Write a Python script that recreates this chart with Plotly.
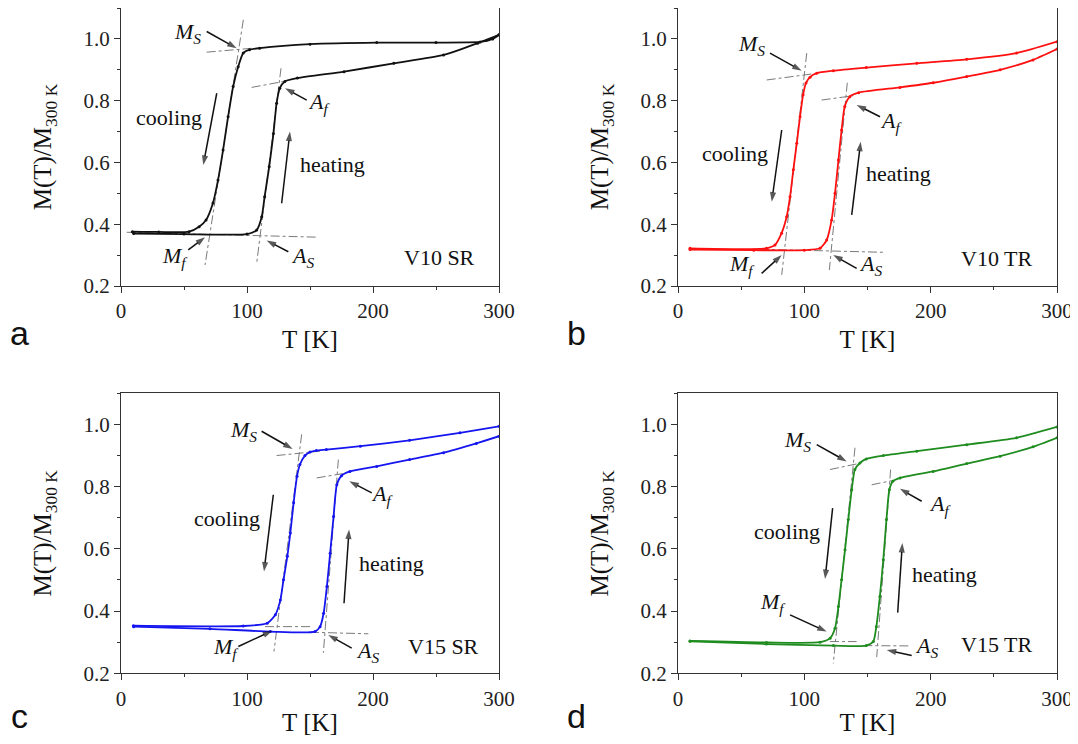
import plotly.graph_objects as go

# ---------------- data ----------------
# Panel a: V10 SR (black)
a_cool_T = [9, 30, 54, 62, 67.5, 73, 77, 81, 85, 89, 93, 97, 102, 110, 150, 203, 250, 285, 295, 300]
a_cool_M = [0.376, 0.375, 0.376, 0.392, 0.414, 0.469, 0.543, 0.640, 0.748, 0.846, 0.910, 0.954,
            0.965, 0.970, 0.983, 0.988, 0.988, 0.990, 1.000, 1.013]
a_heat_T = [10, 50, 100, 107.7, 111.7, 114, 117.6, 121, 123.5, 126, 130, 140, 177, 216.5, 256, 283, 300]
a_heat_M = [0.370, 0.368, 0.368, 0.381, 0.424, 0.489, 0.586, 0.694, 0.792, 0.840, 0.862, 0.873,
            0.894, 0.921, 0.948, 0.986, 1.013]

# Panel b: V10 TR (red)
b_cool_T = [9.5, 70, 76.8, 82, 86, 88.7, 91.3, 94, 96.6, 99, 101.3, 104.5, 109.8, 123, 149, 189, 228.5, 268, 300]
b_cool_M = [0.322, 0.322, 0.333, 0.371, 0.424, 0.489, 0.576, 0.662, 0.748, 0.819, 0.857, 0.876,
            0.889, 0.897, 0.907, 0.921, 0.934, 0.954, 0.991]
b_heat_T = [9.5, 60, 100, 112.4, 117.7, 121.6, 124.3, 127, 129.5, 132, 136, 143, 175.7, 202, 228.5, 255, 281, 300]
b_heat_M = [0.318, 0.316, 0.316, 0.322, 0.349, 0.414, 0.500, 0.608, 0.705, 0.781, 0.813, 0.826,
            0.843, 0.858, 0.878, 0.900, 0.932, 0.967]

# Panel c: V15 SR (blue)
c_cool_T = [9.8, 97, 116, 122.5, 126.5, 129, 132, 134.4, 137, 139.7, 142, 146, 150, 155, 163, 190, 229, 269, 300]
c_cool_M = [0.353, 0.352, 0.361, 0.388, 0.436, 0.501, 0.576, 0.651, 0.748, 0.833, 0.871, 0.900,
            0.911, 0.916, 0.919, 0.930, 0.949, 0.973, 0.994]
c_heat_T = [10, 70.6, 118.5, 154, 158, 160.8, 163.4, 166, 168.7, 171.3, 175, 181.7, 202.9, 229, 256, 282, 300]
c_heat_M = [0.350, 0.343, 0.334, 0.334, 0.350, 0.393, 0.479, 0.586, 0.704, 0.806, 0.835, 0.849,
            0.865, 0.887, 0.909, 0.939, 0.962]

# Panel d: V15 TR (green)
d_cool_T = [9.5, 70, 112.4, 120.4, 124.3, 127, 129.5, 132.2, 134.8, 137.5, 140, 144, 149, 162.5, 189, 228.5, 268, 300]
d_cool_M = [0.304, 0.299, 0.300, 0.313, 0.345, 0.415, 0.501, 0.597, 0.694, 0.790, 0.855, 0.876,
            0.889, 0.900, 0.914, 0.935, 0.957, 0.992]
d_heat_T = [9.5, 70, 123, 149, 154.6, 157, 159.8, 162.5, 165, 167.3, 170, 175.7, 202, 228.5, 255, 281, 300]
d_heat_M = [0.303, 0.294, 0.289, 0.289, 0.302, 0.350, 0.447, 0.565, 0.694, 0.790, 0.817, 0.828,
            0.849, 0.874, 0.898, 0.928, 0.957]

# Tangent construction lines: segments (T0, T1, M0, M1)
a_tangents = [(68, 105, 0.957, 0.970), (97.1, 66.7, 1.062, 0.268), (103.7, 128.8, 0.843, 0.862),
              (127, 107.7, 0.905, 0.274), (4.5, 156.6, 0.374, 0.358)]
b_tangents = [(70.2, 107, 0.867, 0.887), (101.9, 82.1, 0.954, 0.236), (113.7, 138.8, 0.802, 0.816),
              (134, 119.8, 0.858, 0.252), (64.9, 163.9, 0.319, 0.309)]
c_tangents = [(123.5, 158, 0.900, 0.914), (143.4, 121.4, 0.968, 0.270), (155.3, 176.4, 0.828, 0.842),
              (172.5, 160.6, 0.887, 0.266), (114.3, 150, 0.350, 0.350), (150, 196.3, 0.332, 0.327)]
d_tangents = [(120.3, 141.4, 0.855, 0.873), (140.1, 122.9, 0.925, 0.232), (153.3, 169.1, 0.806, 0.819),
              (168.3, 157.3, 0.855, 0.252), (120.3, 141.4, 0.302, 0.302), (146.7, 183.6, 0.289, 0.288)]

sample_labels = ["V10 SR", "V10 TR", "V15 SR", "V15 TR"]
panel_letters = ["a", "b", "c", "d"]
colors = ["#111111", "#ff1010", "#1515f0", "#1e8c1e"]

x_ticks = [0, 100, 200, 300]
y_ticks = [0.2, 0.4, 0.6, 0.8, 1.0]

panels = [
    (a_cool_T, a_cool_M, a_heat_T, a_heat_M, a_tangents),
    (b_cool_T, b_cool_M, b_heat_T, b_heat_M, b_tangents),
    (c_cool_T, c_cool_M, c_heat_T, c_heat_M, c_tangents),
    (d_cool_T, d_cool_M, d_heat_T, d_heat_M, d_tangents),
]

# Annotation layout per panel (positions in data units of that panel)
MS = "<i>M</i><sub><i>S</i></sub>"
MF = "<i>M</i><sub><i>f</i></sub>"
AF = "<i>A</i><sub><i>f</i></sub>"
AS = "<i>A</i><sub><i>S</i></sub>"
panel_text = [
    [(MS, 52.4, 1.019), (AF, 157, 0.793), ("cooling", 38, 0.747), ("heating", 167.9, 0.592),
     (MF, 42.9, 0.294), (AS, 144.4, 0.294)],
    [(MS, 58.3, 0.981), (AF, 168.4, 0.732), ("cooling", 45.5, 0.630), ("heating", 174.4, 0.565),
     (MF, 51, 0.268), (AS, 152, 0.268)],
    [(MS, 97, 0.978), (AF, 207, 0.774), ("cooling", 83.9, 0.699), ("heating", 214.8, 0.554),
     (MF, 83.3, 0.281), (AS, 195.6, 0.270)],
    [(MS, 94.6, 0.946), (AF, 207.5, 0.742), ("cooling", 86, 0.656), ("heating", 210.6, 0.517),
     (MF, 75.5, 0.425), (AS, 196.8, 0.286)],
]
# arrows: (tail_x, tail_y, head_x, head_y)
panel_arrows = [
    [(68, 1.024, 91.8, 0.970), (147.4, 0.802, 130.2, 0.840), (76, 0.824, 65.3, 0.592),
     (127.5, 0.468, 134.1, 0.700), (53.4, 0.317, 66.7, 0.358), (132.8, 0.311, 115.6, 0.347)],
    [(72.8, 0.954, 97.9, 0.897), (159.9, 0.748, 141.4, 0.786), (82.1, 0.705, 74.2, 0.473),
     (137.5, 0.430, 144.6, 0.667), (66.2, 0.241, 82.1, 0.300), (141.4, 0.257, 122.9, 0.300)],
    [(111.6, 0.978, 136.2, 0.921), (199, 0.780, 181.2, 0.817), (120.9, 0.774, 113.5, 0.527),
     (177, 0.425, 181, 0.662), (93.1, 0.286, 120.1, 0.337), (183.1, 0.281, 164.5, 0.323)],
    [(109.8, 0.935, 133.5, 0.881), (192.9, 0.753, 175.7, 0.793), (122.4, 0.731, 116.4, 0.503),
     (173.9, 0.395, 177.6, 0.619), (88.7, 0.388, 117.7, 0.334), (185, 0.257, 165.2, 0.275)],
]
sample_pos = [(253, 0.291), (252.3, 0.290), (255.8, 0.286), (252.3, 0.291)]

# ---------------- figure ----------------
OFF = 8  # default page margin of the html body
W, H = 1078 - OFF, 744 - 2 * OFF  # figure plus the page margins fit the window without scrolling
def px_x(p):
    return min(1.0, max(0.0, (p - OFF) / W))
def px_y(p):
    return min(1.0, max(0.0, 1 - (p - OFF) / H))

x_domains = [[px_x(121), px_x(499)], [px_x(678), px_x(1057)]]
y_domains = [[px_y(286), px_y(8)], [px_y(673.3), px_y(393.3)]]
letter_pos = [(19.5, 333), (576, 333), (19.5, 716), (576, 716)]

SERIF = "Liberation Serif"
fig = go.Figure()

for i, (cT, cM, hT, hM, tans) in enumerate(panels):
    xa = "x" if i == 0 else f"x{i + 1}"
    ya = "y" if i == 0 else f"y{i + 1}"
    # tangent construction lines
    tx, ty = [], []
    for (t0, t1, m0, m1) in tans:
        tx += [t0, t1, None]
        ty += [m0, m1, None]
    fig.add_trace(go.Scatter(x=tx, y=ty, mode="lines", xaxis=xa, yaxis=ya, showlegend=False,
                             line=dict(color="#7a7a7a", width=1, dash="dashdot"), hoverinfo="skip"))
    for T, M, name in [(cT, cM, "cooling"), (hT, hM, "heating")]:
        fig.add_trace(go.Scatter(x=T, y=M, mode="lines+markers", xaxis=xa, yaxis=ya, name=name,
                                 showlegend=False,
                                 line=dict(color=colors[i], width=1.8, shape="spline", smoothing=0.6),
                                 marker=dict(color=colors[i], size=3)))
    # arrows drawn as short lines ending in an arrow marker
    for (t0, m0, t1, m1) in panel_arrows[i]:
        fig.add_trace(go.Scatter(x=[t0, t1], y=[m0, m1], mode="lines+markers", xaxis=xa, yaxis=ya,
                                 showlegend=False, hoverinfo="skip",
                                 line=dict(color="#111", width=1.5),
                                 marker=dict(symbol=["circle", "arrow"], size=[0, 10], color="#111",
                                             angleref="previous", line=dict(width=0))))

    for (txt, x, y) in panel_text[i]:
        fig.add_annotation(x=x, y=y, xref=xa, yref=ya, text=txt, showarrow=False,
                           xanchor="center", yanchor="middle",
                           font=dict(family=SERIF, size=22, color="#111"))
    sx, sy = sample_pos[i]
    fig.add_annotation(x=sx, y=sy, xref=xa, yref=ya, text=sample_labels[i], showarrow=False,
                       xanchor="center", yanchor="middle",
                       font=dict(family=SERIF, size=22, color="#111"))
    lx, ly = letter_pos[i]
    fig.add_annotation(x=px_x(lx), y=px_y(ly), xref="paper", yref="paper", text=panel_letters[i],
                       showarrow=False, xanchor="center", yanchor="middle",
                       font=dict(family="Liberation Sans", size=34, color="#111"))

axis_common = dict(showline=True, mirror=True, linecolor="#333", linewidth=1, ticks="outside",
                   ticklen=6, tickwidth=1, tickcolor="#333", showgrid=False, zeroline=False,
                   automargin=False,
                   tickfont=dict(family=SERIF, size=21, color="#222"))
layout_axes = {}
for i in range(4):
    xname = "xaxis" if i == 0 else f"xaxis{i + 1}"
    yname = "yaxis" if i == 0 else f"yaxis{i + 1}"
    anchor_x = "y" if i == 0 else f"y{i + 1}"
    anchor_y = "x" if i == 0 else f"x{i + 1}"
    layout_axes[xname] = dict(axis_common, domain=x_domains[i % 2], anchor=anchor_x, range=[0, 300],
                              tickvals=x_ticks, ticktext=[str(v) for v in x_ticks],
                              minor=dict(dtick=50, ticklen=3, ticks="outside", tickcolor="#333"),
                              title=dict(text="T [K]", standoff=8,
                                         font=dict(family=SERIF, size=25, color="#111")))
    layout_axes[yname] = dict(axis_common, domain=y_domains[i // 2], anchor=anchor_y, range=[0.2, 1.1],
                              tickvals=y_ticks, ticktext=[f"{v:.1f}" for v in y_ticks],
                              minor=dict(dtick=0.1, tick0=0.2, ticklen=3, ticks="outside", tickcolor="#333"),
                              title=dict(text="M(T)/M<sub>300 K</sub>", standoff=24,
                                         font=dict(family=SERIF, size=25, color="#111")))

fig.update_layout(width=W, height=H, margin=dict(l=0, r=0, t=0, b=0, autoexpand=False), autosize=False,
                  paper_bgcolor="white", plot_bgcolor="white", showlegend=False, **layout_axes)

fig.write_html("out.html")
